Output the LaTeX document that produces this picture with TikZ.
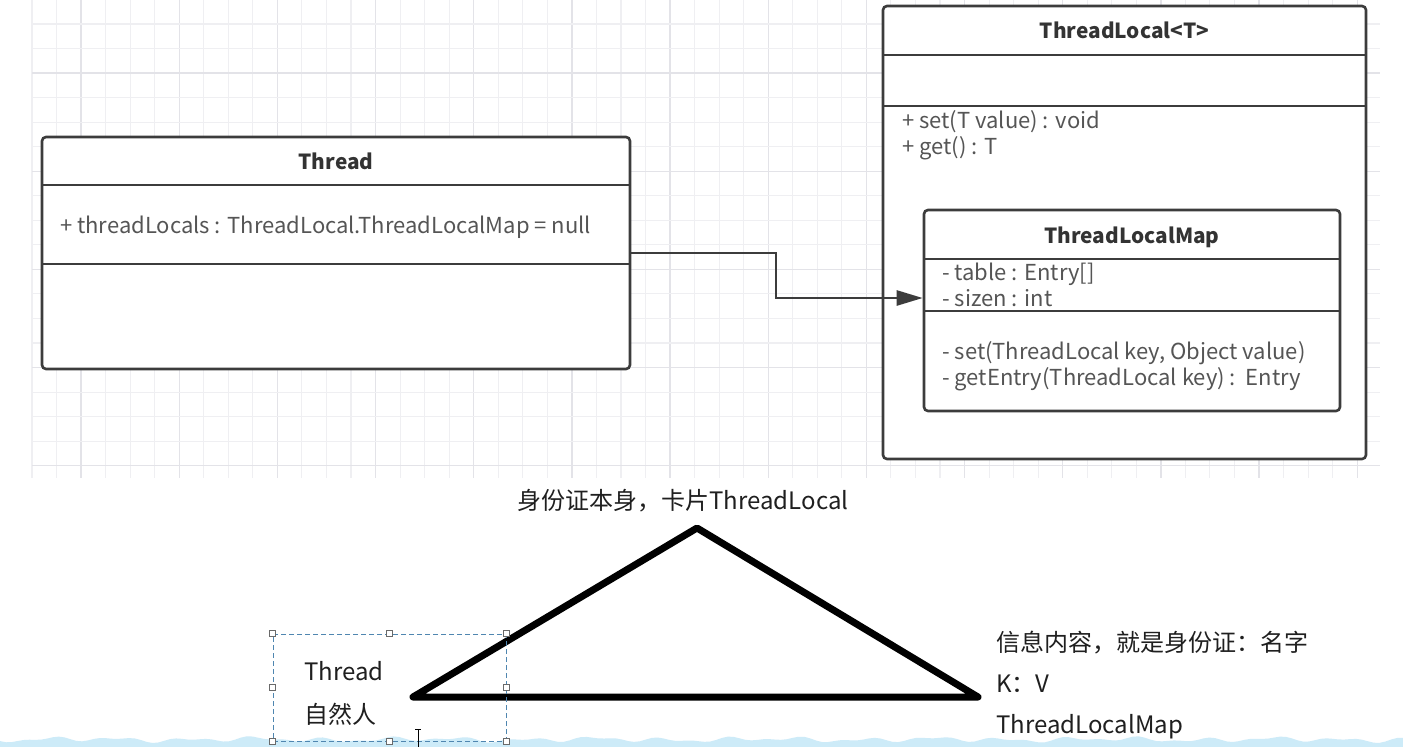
\documentclass[tikz,border=0pt]{standalone}
\usepackage{fontspec}
\setmainfont{Noto Sans CJK SC}
\newfontfamily\cjk{Noto Sans CJK SC}
\usetikzlibrary{arrows.meta}
\definecolor{gridminor}{HTML}{EFEFF2}
\definecolor{gridmajor}{HTML}{E3E3E8}
\definecolor{umlline}{HTML}{3C3C3C}
\definecolor{umltext}{HTML}{555555}
\definecolor{umltitle}{HTML}{333333}
\definecolor{selblue}{HTML}{4F86B0}
\definecolor{wavecol}{HTML}{CDEBF8}
\definecolor{handlecol}{HTML}{6A6A6A}
\tikzset{
  umlbox/.style={draw=umlline, line width=2.6pt, rounded corners=4pt, fill=white, inner sep=0pt},
  umlsep/.style={draw=umlline, line width=2.6pt},
  umltitlestyle/.style={font=\cjk\fontsize{20.8}{24}\selectfont\bfseries, text=umltitle, inner sep=0pt, text height=15pt, text depth=0pt},
  umlattr/.style={font=\cjk\fontsize{22}{26}\selectfont, text=umltext, anchor=west, inner sep=0pt, text height=15.5pt, text depth=0pt},
  noteText/.style={font=\cjk\fontsize{24}{28}\selectfont, text=black!88, inner sep=0pt, text height=18pt, text depth=0pt},
  assoc/.style={draw=umlline, line width=2.6pt, -{Triangle[length=26pt,width=15pt]}},
  handle/.style={draw=handlecol, fill=white, line width=0.9pt, minimum size=5.5pt, inner sep=0pt},
  selframe/.style={draw=selblue, line width=1pt, dash pattern=on 5pt off 3pt},
}
\begin{document}
\begin{tikzpicture}[x=1pt,y=-1pt]
\useasboundingbox (0,0) rectangle (1403,747);
\fill[white] (0,0) rectangle (1403,747);
% grid
\foreach \k in {0,...,54} {
  \pgfmathsetmacro{\gx}{32+\k*24.54}
  \pgfmathtruncatemacro{\m}{mod(\k,4)}
  \ifnum\m=2
    \draw[gridmajor, line width=1.3pt] (\gx,0) -- (\gx,478);
  \else
    \draw[gridminor, line width=1.1pt] (\gx,0) -- (\gx,478);
  \fi
}
\foreach \k in {0,...,18} {
  \pgfmathsetmacro{\gy}{24+\k*24.54}
  \pgfmathtruncatemacro{\m}{mod(\k,4)}
  \ifnum\m=2
    \draw[gridmajor, line width=1.3pt] (32,\gy) -- (1380,\gy);
  \else
    \draw[gridminor, line width=1.1pt] (32,\gy) -- (1380,\gy);
  \fi
}

% Thread class
\node[umlbox, minimum width=588pt, minimum height=232pt] (thread) at (336,253) {};
\node[umltitlestyle] (threadtitle) at (336,162) {Thread};
\draw[umlsep] (42,185) -- (630,185);
\draw[umlsep] (42,264) -- (630,264);
\node[umlattr] (threadattr) at (60,226) {+ threadLocals : ThreadLocal.ThreadLocalMap = null};

% ThreadLocal<T> class
\node[umlbox, minimum width=483pt, minimum height=453pt] (tl) at (1124.5,232.5) {};
\node[umltitlestyle] (tltitle) at (1124.5,31) {ThreadLocal<T>};
\draw[umlsep] (883,55) -- (1366,55);
\draw[umlsep] (883,106) -- (1366,106);
\node[umlattr] (tlset) at (902,121) {+ set(T value) : void};
\node[umlattr] (tlget) at (902,147) {+ get() : T};

% ThreadLocalMap class
\node[umlbox, minimum width=416pt, minimum height=201pt] (tlm) at (1132,310.5) {};
\node[umltitlestyle] (tlmtitle) at (1132,236) {ThreadLocalMap};
\draw[umlsep] (924,259) -- (1340,259);
\draw[umlsep] (924,311) -- (1340,311);
\node[umlattr] (tlmtable) at (942,273) {- table : Entry[]};
\node[umlattr] (tlmsize) at (942,299) {- sizen : int};
\node[umlattr] (tlmsetm) at (942,352) {- set(ThreadLocal key, Object value)};
\node[umlattr] (tlmget) at (942,378) {- getEntry(ThreadLocal key) :\ \ Entry};

% association arrow
\coordinate (arrowlevel) at (0,298);
\draw[assoc] (thread.east) -- (776,253) |- (tlm.west |- arrowlevel);

% bottom wave
\fill[wavecol] (0,747) -- plot[domain=0:1403, samples=240] (\x, {739.5 + 1.6*sin(\x*5.3) + 1.2*sin(\x*9.7+40) + 0.8*sin(\x*2.1+100)}) -- (1403,747) -- cycle;

% triangle sketch
\coordinate (triL) at (413,697);
\coordinate (triT) at (697,528);
\coordinate (triR) at (978,697);
\draw[black, line width=7pt, line join=round, line cap=round] (triL) -- (triT) -- (triR) -- cycle;

% notes
\node[noteText] (idcard) at (683,500) {身份证本身，卡片ThreadLocal};
\node[noteText, anchor=west] (info1) at (996,642) {信息内容，就是身份证：名字};
\node[noteText, anchor=west] (info2) at (996,683) {K：V};
\node[noteText, anchor=west] (info3) at (996,724) {ThreadLocalMap};

% selection box with text
\node[selframe, minimum width=233pt, minimum height=107pt, inner sep=0pt] (sel) at (389.5,687.5) {};
\node[noteText, anchor=west] (person1) at (304,671) {Thread};
\node[noteText, anchor=west] (person2) at (304,714) {自然人};
\foreach \a in {north west,north,north east,west,east,south west,south,south east}
  \node[handle] at (sel.\a) {};

% text cursor
\draw[black, line width=1pt] (415,729) -- (421,729);
\draw[black, line width=1pt] (418,729) -- (418,747);
\end{tikzpicture}
\end{document}
